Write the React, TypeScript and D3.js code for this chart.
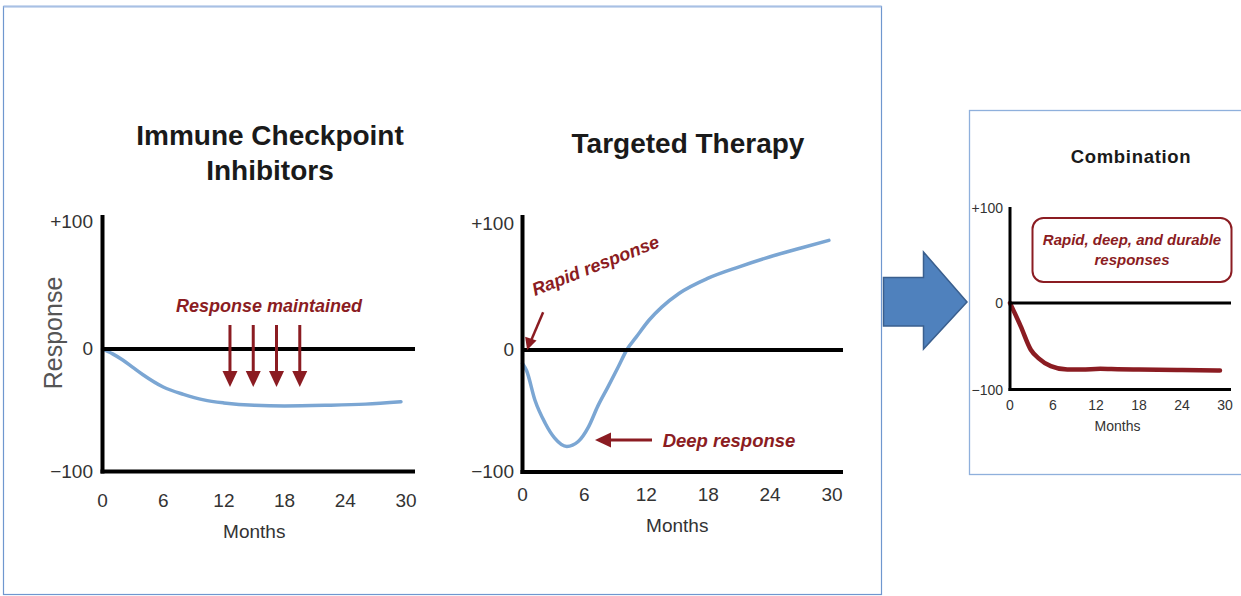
import React from "react";
import * as d3 from "d3";

// ---------- data ----------
const monthTicks = [0, 6, 12, 18, 24, 30];
const responseTicks = [100, 0, -100];
const responseTickLabels = ["+100", "0", "\u2212100"];

const iciMonths = [0, 1, 2, 3, 4, 6, 8, 10, 12, 15, 18, 22, 26, 29.5];
const iciResponse = [0, -4, -9, -15, -21, -31, -37, -41.5, -44, -46, -46.5, -46, -45, -43];

const ttMonths = [0, 0.4, 1.2, 2.2, 3.1, 4.3, 5.4, 6.4, 7.3, 8.3, 9.3, 10.1, 11, 12.3, 13.5, 15.2, 18, 21, 24, 27, 29.7];
const ttResponse = [-11, -17, -41, -60, -72, -79, -75, -63, -46, -30, -13.5, 0, 10, 24, 34, 45, 57, 66, 74, 81, 87];

const comboMonths = [0, 1.5, 2.9, 4, 5.7, 8, 10, 12.6, 15, 18, 24, 29.3];
const comboResponse = [0, -27, -54, -64, -73, -77, -77, -76, -76.5, -77, -77.5, -78];

// annotation: months where "Response maintained" arrows sit
const maintainedArrowMonths = [12.6, 14.9, 17.2, 19.5];

const RED = "#8b1c22";
const BLUE = "#7ba6d3";
const FONT = "'Liberation Sans', Arial, Helvetica, sans-serif";

type Pt = [number, number];
const zip = (xs: number[], ys: number[]): Pt[] => xs.map((x, i) => [x, ys[i]]);

interface PanelProps {
  x: d3.ScaleLinear<number, number>;
  y: d3.ScaleLinear<number, number>;
  axisTop: number;
  axisRight: number;
  axisW: number;
  tickFs: number;
  xLabelY: number;
  yLabelRight: number;
  yLabelDy: number;
  monthsY: number;
  monthsFs: number;
  data: Pt[];
  color: string;
  lineW: number;
  curve: d3.CurveFactory;
}

function Panel(p: PanelProps) {
  const x0 = p.x(0);
  const yBottom = p.y(-100);
  const line = d3
    .line<Pt>()
    .x((d) => p.x(d[0]))
    .y((d) => p.y(d[1]))
    .curve(p.curve);
  const midX = (p.x(0) + p.x(30)) / 2;
  return (
    <g fontFamily={FONT}>
      {/* curve */}
      <path d={line(p.data) || ""} fill="none" stroke={p.color} strokeWidth={p.lineW} strokeLinecap="round" />
      {/* axes */}
      <line x1={x0} x2={x0} y1={p.axisTop} y2={yBottom + p.axisW / 2} stroke="#000" strokeWidth={p.axisW} />
      <line x1={x0 - p.axisW / 2} x2={p.axisRight} y1={yBottom} y2={yBottom} stroke="#000" strokeWidth={p.axisW} />
      <line x1={x0} x2={p.axisRight} y1={p.y(0)} y2={p.y(0)} stroke="#000" strokeWidth={p.axisW} />
      {/* y tick labels */}
      {responseTicks.map((v, i) => (
        <text key={"y" + v} x={p.yLabelRight} y={p.y(v) + p.yLabelDy} textAnchor="end" fontSize={p.tickFs} fill="#333">
          {responseTickLabels[i]}
        </text>
      ))}
      {/* x tick labels */}
      {monthTicks.map((m) => (
        <text key={"x" + m} x={p.x(m)} y={p.xLabelY} textAnchor="middle" fontSize={p.tickFs} fill="#333">
          {m}
        </text>
      ))}
      <text x={midX} y={p.monthsY} textAnchor="middle" fontSize={p.monthsFs} fill="#333">
        Months
      </text>
    </g>
  );
}

function arrowHead(tipX: number, tipY: number, angleDeg: number, len: number, half: number) {
  const a = (angleDeg * Math.PI) / 180;
  const bx = tipX - Math.cos(a) * len;
  const by = tipY - Math.sin(a) * len;
  const nx = -Math.sin(a) * half;
  const ny = Math.cos(a) * half;
  return `M${tipX},${tipY}L${bx + nx},${by + ny}L${bx - nx},${by - ny}Z`;
}

export default function App() {
  // left panel scales
  const xL = d3.scaleLinear().domain([0, 30]).range([102.5, 406]);
  const yL = d3.scaleLinear().domain([-100, 0, 100]).range([471.5, 349, 222]);
  // middle
  const xM = d3.scaleLinear().domain([0, 30]).range([522.5, 832]);
  const yM = d3.scaleLinear().domain([-100, 0, 100]).range([472, 350, 224]);
  // right
  const xR = d3.scaleLinear().domain([0, 30]).range([1010, 1225]);
  const yR = d3.scaleLinear().domain([-100, 0, 100]).range([389.5, 303, 208]);

  const maintY = yL(0);
  return (
    <div style={{ position: "absolute", left: 0, top: 0, width: 1241, height: 596, background: "#fff" }}>
      <svg width={1241} height={596} style={{ display: "block" }}>
        <rect width={1241} height={596} fill="#fff" />
        {/* panel frames */}
        <rect x={3.5} y={6.5} width={878} height={588} fill="none" stroke="#6f97cf" strokeWidth={1.2} />
        <line x1={3.5} x2={881.5} y1={6.5} y2={6.5} stroke="#a8c0e4" strokeWidth={2} />
        <rect x={969.5} y={110.5} width={280} height={364} fill="none" stroke="#8fb0dc" strokeWidth={1.3} />

        {/* titles */}
        <g fontFamily={FONT} fontWeight="bold" fill="#1a1a1a" textAnchor="middle">
          <text x={270} y={145} fontSize={28}>Immune Checkpoint</text>
          <text x={270} y={180} fontSize={28}>Inhibitors</text>
          <text x={688} y={153} fontSize={28}>Targeted Therapy</text>
          <text x={1131} y={163} fontSize={18.5} letterSpacing={0.7}>Combination</text>
        </g>

        {/* y axis label */}
        <text
          x={0}
          y={0}
          transform="translate(53,333) rotate(-90)"
          textAnchor="middle"
          dominantBaseline="central"
          fontFamily={FONT}
          fontSize={25}
          fill="#555"
        >
          Response
        </text>

        <Panel
          x={xL}
          y={yL}
          axisTop={215}
          axisRight={415}
          axisW={4}
          tickFs={19}
          xLabelY={507}
          yLabelRight={93}
          yLabelDy={6}
          monthsY={538}
          monthsFs={19}
          data={zip(iciMonths, iciResponse)}
          color={BLUE}
          lineW={3.5}
          curve={d3.curveMonotoneX}
        />
        <Panel
          x={xM}
          y={yM}
          axisTop={215}
          axisRight={843}
          axisW={4}
          tickFs={19}
          xLabelY={501}
          yLabelRight={514}
          yLabelDy={6}
          monthsY={532}
          monthsFs={19}
          data={zip(ttMonths, ttResponse)}
          color={BLUE}
          lineW={3.5}
          curve={d3.curveMonotoneX}
        />
        <Panel
          x={xR}
          y={yR}
          axisTop={207}
          axisRight={1231}
          axisW={3}
          tickFs={14}
          xLabelY={410}
          yLabelRight={1003}
          yLabelDy={5}
          monthsY={431}
          monthsFs={14}
          data={zip(comboMonths, comboResponse)}
          color={RED}
          lineW={4.5}
          curve={d3.curveMonotoneX}
        />

        {/* left annotations */}
        <g fontFamily={FONT} fontWeight="bold" fontStyle="italic" fill={RED}>
          <text x={269} y={312} fontSize={18} textAnchor="middle">Response maintained</text>
          <text x={535} y={296} fontSize={18} transform="rotate(-21.5 535 296)">Rapid response</text>
          <text x={729} y={447} fontSize={18.5} textAnchor="middle">Deep response</text>
        </g>
        {maintainedArrowMonths.map((m) => {
          const ax = xL(m);
          return (
            <g key={"ma" + m}>
              <line x1={ax} x2={ax} y1={maintY - 24} y2={maintY + 25} stroke={RED} strokeWidth={3} />
              <path d={arrowHead(ax, maintY + 38, 90, 16, 7.5)} fill={RED} />
            </g>
          );
        })}
        {/* rapid response arrow */}
        <line x1={xM(2)} x2={xM(0.7)} y1={yM(30)} y2={yM(5)} stroke={RED} strokeWidth={2.5} />
        <path d={arrowHead(xM(0.45), yM(0), 108, 12, 6)} fill={RED} />
        {/* deep response arrow */}
        <line x1={652} x2={606} y1={440} y2={440} stroke={RED} strokeWidth={3} />
        <path d={arrowHead(595, 440, 180, 16, 7.5)} fill={RED} />

        {/* combination box */}
        <rect x={1032.5} y={218} width={199} height={64} rx={11} fill="#fff" stroke={RED} strokeWidth={2} />
        <g fontFamily={FONT} fontWeight="bold" fontStyle="italic" fill={RED} textAnchor="middle" fontSize={15}>
          <text x={1132} y={245}>Rapid, deep, and durable</text>
          <text x={1132} y={265}>responses</text>
        </g>

        {/* big block arrow */}
        <path
          d="M883.5,277.5 L923.5,277.5 L923.5,252 L967,302 L923.5,349 L923.5,326 L883.5,326 Z"
          fill="#4f81bd"
          stroke="#3a5f8e"
          strokeWidth={1.5}
        />
      </svg>
    </div>
  );
}
